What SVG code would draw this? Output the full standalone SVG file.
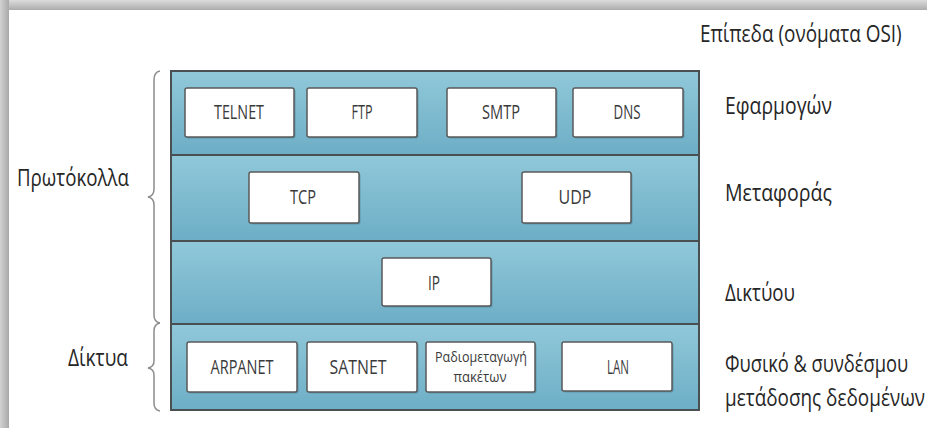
<svg xmlns="http://www.w3.org/2000/svg" width="927" height="428" viewBox="0 0 927 428">
  <defs>
    <linearGradient id="shadeTop" x1="0" y1="0" x2="0" y2="1">
      <stop offset="0" stop-color="#dcdcdc"/>
      <stop offset="1" stop-color="#acacac"/>
    </linearGradient>
    <linearGradient id="shadeLeft" x1="0" y1="0" x2="1" y2="0">
      <stop offset="0" stop-color="#d2d2d2"/>
      <stop offset="1" stop-color="#a9a9a9"/>
    </linearGradient>
    <linearGradient id="layerFill" x1="0" y1="0" x2="0" y2="1">
      <stop offset="0" stop-color="#90c8d9"/>
      <stop offset="1" stop-color="#6daec6"/>
    </linearGradient>
  </defs>
  <style>
    .lbl { font-family: "Open Sans", "Liberation Sans", sans-serif; font-size: 23px; fill: #262626; }
    .box { fill: #ffffff; stroke: #5a5a5a; stroke-width: 1.5; }
    .boxShadow { fill: #3d6f80; opacity: 0.45; }
    .btxt { font-family: "Open Sans", "Liberation Sans", sans-serif; font-size: 19.5px; fill: #3a3a3a; text-anchor: middle; }
    .small { font-size: 15px; }
    .layer { fill: url(#layerFill); }
    .div { stroke: #4a4f52; stroke-width: 2; }
    .brace { fill: none; stroke: #8c8c8c; stroke-width: 1.5; }
  </style>

  <!-- page background with soft frame shadow -->
  <rect x="0" y="0" width="927" height="428" fill="#ffffff"/>
  <rect x="0" y="0" width="927" height="10" fill="url(#shadeTop)"/>
  <rect x="0" y="0" width="9" height="428" fill="url(#shadeLeft)"/>

  <!-- stacked layers -->
  <g id="stack">
    <rect class="layer" x="171" y="71" width="528" height="84"/>
    <rect class="layer" x="171" y="155" width="528" height="86"/>
    <rect class="layer" x="171" y="241" width="528" height="83"/>
    <rect class="layer" x="171" y="324" width="528" height="86"/>
    <line class="div" x1="171" y1="155" x2="699" y2="155"/>
    <line class="div" x1="171" y1="241" x2="699" y2="241"/>
    <line class="div" x1="171" y1="324" x2="699" y2="324"/>
    <rect x="171" y="71" width="528" height="339" fill="none" stroke="#4a4f52" stroke-width="2"/>
  </g>

  <!-- application layer -->
  <g id="telnet">
    <rect class="boxShadow" x="186.5" y="89.5" width="109" height="49" rx="2"/>
    <rect class="box" x="185" y="88" width="109" height="49" rx="2"/>
    <text class="btxt" x="239" y="119" textLength="50" lengthAdjust="spacingAndGlyphs">TELNET</text>
  </g>
  <g id="ftp">
    <rect class="boxShadow" x="308.5" y="89.5" width="110" height="49" rx="2"/>
    <rect class="box" x="307" y="88" width="110" height="49" rx="2"/>
    <text class="btxt" x="362" y="119" textLength="21" lengthAdjust="spacingAndGlyphs">FTP</text>
  </g>
  <g id="smtp">
    <rect class="boxShadow" x="448.5" y="89.5" width="109" height="49" rx="2"/>
    <rect class="box" x="447" y="88" width="109" height="49" rx="2"/>
    <text class="btxt" x="501" y="119" textLength="38" lengthAdjust="spacingAndGlyphs">SMTP</text>
  </g>
  <g id="dns">
    <rect class="boxShadow" x="574.5" y="89.5" width="110" height="49" rx="2"/>
    <rect class="box" x="573" y="88" width="110" height="49" rx="2"/>
    <text class="btxt" x="627" y="119" textLength="27" lengthAdjust="spacingAndGlyphs">DNS</text>
  </g>

  <!-- transport layer -->
  <g id="tcp">
    <rect class="boxShadow" x="250.5" y="173.5" width="110" height="51" rx="2"/>
    <rect class="box" x="249" y="172" width="110" height="51" rx="2"/>
    <text class="btxt" x="303" y="204" textLength="26" lengthAdjust="spacingAndGlyphs">TCP</text>
  </g>
  <g id="udp">
    <rect class="boxShadow" x="523.5" y="173.5" width="109" height="51" rx="2"/>
    <rect class="box" x="522" y="172" width="109" height="51" rx="2"/>
    <text class="btxt" x="575" y="204" textLength="33" lengthAdjust="spacingAndGlyphs">UDP</text>
  </g>

  <!-- network layer -->
  <g id="ip">
    <rect class="boxShadow" x="383.5" y="259.5" width="109" height="48" rx="2"/>
    <rect class="box" x="382" y="258" width="109" height="48" rx="2"/>
    <text class="btxt" x="434" y="290" textLength="12" lengthAdjust="spacingAndGlyphs">IP</text>
  </g>

  <!-- physical / data link layer -->
  <g id="arpanet">
    <rect class="boxShadow" x="188.5" y="343.5" width="110" height="50" rx="2"/>
    <rect class="box" x="187" y="342" width="110" height="50" rx="2"/>
    <text class="btxt" x="242" y="374" textLength="63" lengthAdjust="spacingAndGlyphs">ARPANET</text>
  </g>
  <g id="satnet">
    <rect class="boxShadow" x="308.5" y="343.5" width="110" height="50" rx="2"/>
    <rect class="box" x="307" y="342" width="110" height="50" rx="2"/>
    <text class="btxt" x="358" y="374" textLength="57" lengthAdjust="spacingAndGlyphs">SATNET</text>
  </g>
  <g id="radio">
    <rect class="boxShadow" x="427.5" y="343.5" width="109" height="50" rx="2"/>
    <rect class="box" x="426" y="342" width="109" height="50" rx="2"/>
    <text class="btxt small" x="481" y="362" textLength="92" lengthAdjust="spacingAndGlyphs">Ραδιομεταγωγή</text>
    <text class="btxt small" x="480" y="382" textLength="53" lengthAdjust="spacingAndGlyphs">πακέτων</text>
  </g>
  <g id="lan">
    <rect class="boxShadow" x="563.5" y="343.5" width="110" height="49" rx="2"/>
    <rect class="box" x="562" y="342" width="110" height="49" rx="2"/>
    <text class="btxt" x="618" y="374" textLength="22" lengthAdjust="spacingAndGlyphs">LAN</text>
  </g>

  <!-- braces grouping the layers -->
  <g id="braces">
    <path class="brace" d="M160,71 Q154,72 154,80 L154,189 Q154,196 148,197 Q154,198 154,205 L154,315 Q154,322 160,323"/>
    <path class="brace" d="M160,323 Q154,324 154,331 L154,361 Q154,367 148,368 Q154,369 154,375 L154,403 Q154,410 160,411"/>
  </g>

  <!-- side labels; the long ones are narrowed horizontally to fit the page -->
  <g id="labels">
    <text class="lbl" transform="translate(700,42) scale(0.83,1)" x="0" y="0" textLength="243" lengthAdjust="spacingAndGlyphs">Επίπεδα (ονόματα OSI)</text>
    <text class="lbl" x="725" y="114" textLength="107" lengthAdjust="spacingAndGlyphs">Εφαρμογών</text>
    <text class="lbl" x="725" y="201" textLength="107" lengthAdjust="spacingAndGlyphs">Μεταφοράς</text>
    <text class="lbl" x="725" y="301" textLength="70" lengthAdjust="spacingAndGlyphs">Δικτύου</text>
    <text class="lbl" transform="translate(725,372) scale(0.8,1)" x="0" y="0" textLength="229" lengthAdjust="spacingAndGlyphs">Φυσικό &amp; συνδέσμου</text>
    <text class="lbl" transform="translate(725,406) scale(0.83,1)" x="0" y="0" textLength="241" lengthAdjust="spacingAndGlyphs">μετάδοσης δεδομένων</text>
    <text class="lbl" x="17" y="186" textLength="112" lengthAdjust="spacingAndGlyphs">Πρωτόκολλα</text>
    <text class="lbl" x="68" y="366" textLength="60" lengthAdjust="spacingAndGlyphs">Δίκτυα</text>
  </g>
</svg>
